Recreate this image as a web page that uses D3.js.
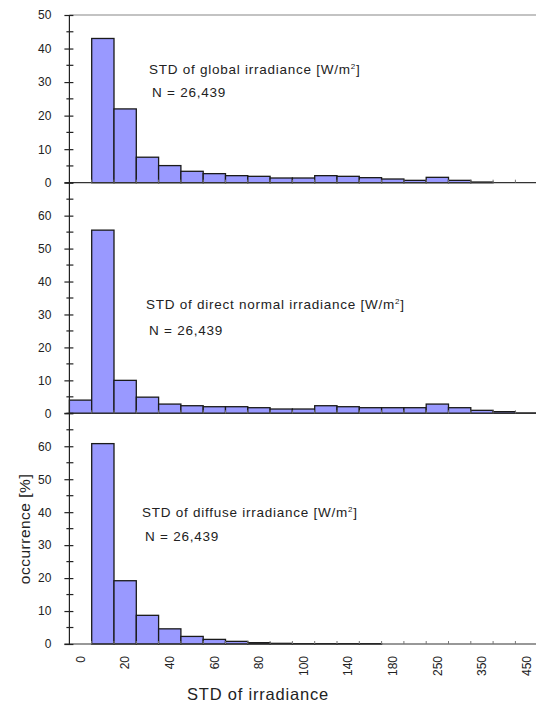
<!DOCTYPE html>
<html>
<head>
<meta charset="utf-8">
<script src="https://cdn.jsdelivr.net/npm/d3@7"></script>
<style>
  body { margin: 0; background: #fff; }
  svg { display: block; font-family: "Liberation Sans", Arial, sans-serif; }
</style>
</head>
<body>
<div id="chart"></div>
<script>
// bins of STD of irradiance (W/m2), one per bar
const bins = ["0","10","20","30","40","50","60","70","80","90","100","120","140","160","180","200","250","300","350","400","450"];
// only every other bin is labelled
const binLabels = ["0","20","40","60","80","100","140","180","250","350","450"];

// occurrence in %
const globalStd  = [0, 43.0, 22.0, 7.6, 5.1, 3.4, 2.7, 2.1, 1.9, 1.4, 1.4, 2.1, 1.9, 1.5, 1.1, 0.7, 1.6, 0.7, 0.2, 0, 0];
const directStd  = [4.0, 55.6, 10.0, 4.9, 2.8, 2.3, 2.0, 2.0, 1.7, 1.3, 1.3, 2.3, 2.0, 1.7, 1.7, 1.7, 2.8, 1.7, 0.9, 0.5, 0.1];
const diffuseStd = [0, 60.8, 19.2, 8.7, 4.6, 2.3, 1.4, 0.8, 0.4, 0.2, 0.1, 0.1, 0.1, 0.1, 0, 0, 0, 0, 0, 0, 0];

const panelTitles = ["STD of global irradiance [W/m", "STD of direct normal irradiance [W/m", "STD of diffuse irradiance [W/m"];
const sampleText = "N = 26,439";

const width = 536, height = 702;

const svg = d3.select("#chart").append("svg")
  .attr("width", width)
  .attr("height", height);

const x = d3.scaleBand()
  .domain(bins)
  .range([69.4, 537.7])
  .padding(0);

// three stacked panels
const panels = [
  {data: globalStd,  max: 50, top: 15,    bottom: 182.7, labels: d3.range(0, 51, 10), tx: 149, ty: 74,  ny: 97},
  {data: directStd,  max: 70, top: 182.7, bottom: 413.3, labels: d3.range(0, 61, 10), tx: 146, ty: 309, ny: 335},
  {data: diffuseStd, max: 70, top: 413.3, bottom: 644,   labels: d3.range(0, 61, 10), tx: 142, ty: 517, ny: 541}
];

// top frame line
svg.append("line")
  .attr("x1", x.range()[0]).attr("x2", width)
  .attr("y1", 15).attr("y2", 15)
  .attr("stroke", "#888").attr("stroke-width", 1.2);

panels.forEach((p, i) => {
  const y = d3.scaleLinear().domain([0, p.max]).range([p.bottom, p.top]);
  const g = svg.append("g");

  // bars
  g.selectAll("rect")
    .data(p.data)
    .enter().append("rect")
    .attr("x", (d, j) => x(bins[j]))
    .attr("width", x.bandwidth())
    .attr("y", d => y(d))
    .attr("height", d => y(0) - y(d))
    .attr("fill", "#9999ff")
    .attr("stroke", "#1a1a1a")
    .attr("stroke-width", 1.3);

  // baseline
  g.append("line")
    .attr("x1", x.range()[0] - 5).attr("x2", width)
    .attr("y1", y(0)).attr("y2", y(0))
    .attr("stroke", "#333").attr("stroke-width", 1.2);

  // small ticks at bin boundaries
  g.selectAll(".btick")
    .data(bins.slice(1))
    .enter().append("line")
    .attr("class", "btick")
    .attr("x1", d => x(d)).attr("x2", d => x(d))
    .attr("y1", y(0)).attr("y2", y(0) - 3)
    .attr("stroke", "#777").attr("stroke-width", 1);

  // y axis, major ticks with labels
  const yAxis = d3.axisLeft(y)
    .tickValues(p.labels)
    .tickSize(5)
    .tickPadding(13)
    .tickFormat(d3.format("d"));
  const ya = g.append("g")
    .attr("transform", "translate(" + x.range()[0] + ",0)")
    .call(yAxis);
  ya.select(".domain").remove();
  ya.selectAll(".tick line").attr("x1", 4).attr("stroke", "#222").attr("stroke-width", 1.2);
  ya.selectAll(".tick text")
    .attr("font-size", 12)
    .attr("fill", "#222")
    .attr("font-family", "'Liberation Sans', Arial, sans-serif");

  // minor ticks
  const minor = d3.range(5, p.max, 10).concat(p.max > 60 ? [70] : []);
  g.selectAll(".mtick")
    .data(minor.filter(v => p.labels.indexOf(v) < 0))
    .enter().append("line")
    .attr("class", "mtick")
    .attr("x1", x.range()[0] - 3).attr("x2", x.range()[0] + 4)
    .attr("y1", d => y(d)).attr("y2", d => y(d))
    .attr("stroke", "#222").attr("stroke-width", 1.2);

  // annotation
  const t = g.append("text")
    .attr("x", p.tx).attr("y", p.ty)
    .attr("font-size", 13.5)
    .attr("letter-spacing", 0.75)
    .attr("fill", "#222");
  t.append("tspan").text(panelTitles[i]);
  t.append("tspan").attr("dy", -5).attr("font-size", 8).text("2");
  t.append("tspan").attr("dy", 5).text("]");

  g.append("text")
    .attr("x", p.tx + 3).attr("y", p.ny)
    .attr("font-size", 13.5)
    .attr("letter-spacing", 0.75)
    .attr("fill", "#222")
    .text(sampleText);
});

// left vertical axis line through all panels
svg.append("line")
  .attr("x1", x.range()[0]).attr("x2", x.range()[0])
  .attr("y1", 15).attr("y2", 644)
  .attr("stroke", "#222").attr("stroke-width", 1.2);

// x tick labels, rotated
svg.selectAll(".xlabel")
  .data(binLabels)
  .enter().append("text")
  .attr("class", "xlabel")
  .attr("transform", d => "translate(" + (x(d) + x.bandwidth() / 2) + ",656) rotate(-90)")
  .attr("text-anchor", "end")
  .attr("dy", "0.35em")
  .attr("font-size", 12)
  .attr("fill", "#222")
  .text(d => d);

// axis titles
svg.append("text")
  .attr("transform", "translate(30,529) rotate(-90)")
  .attr("text-anchor", "middle")
  .attr("font-size", 15.5)
  .attr("letter-spacing", 0.5)
  .attr("fill", "#222")
  .text("occurrence [%]");

svg.append("text")
  .attr("x", 258).attr("y", 700)
  .attr("text-anchor", "middle")
  .attr("font-size", 16.5)
  .attr("letter-spacing", 0.8)
  .attr("fill", "#222")
  .text("STD of irradiance");
</script>
</body>
</html>
